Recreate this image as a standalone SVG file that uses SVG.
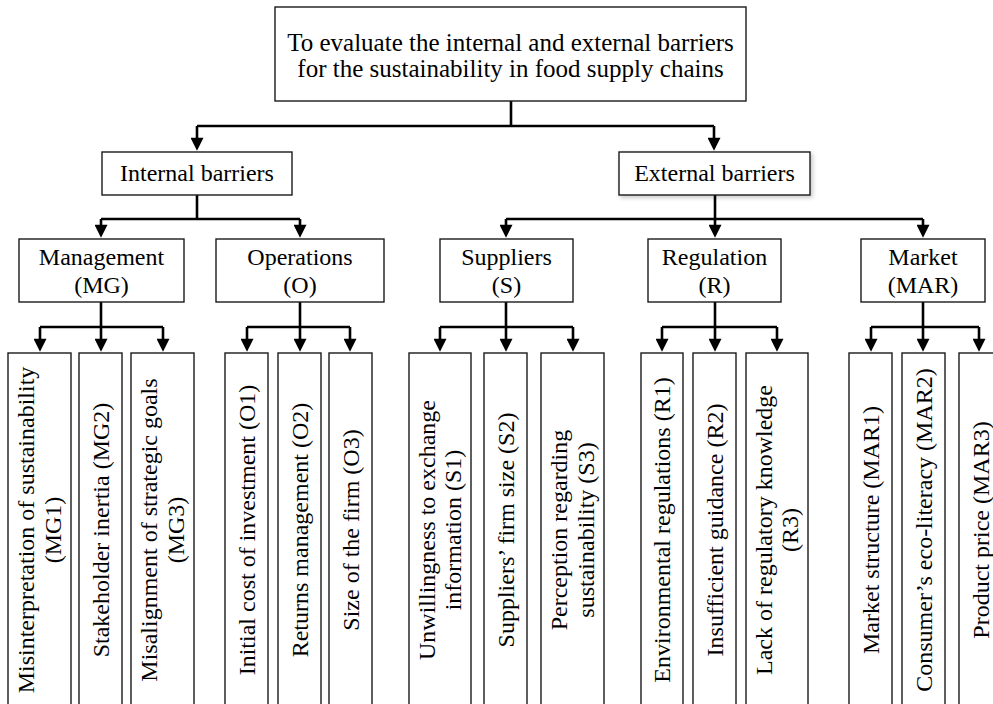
<svg xmlns="http://www.w3.org/2000/svg" width="993" height="704" viewBox="0 0 993 704">
<defs>
<style>
.box{fill:#fff;stroke:#1a1a1a;stroke-width:1.4}
.t{font-family:"Liberation Serif","Times New Roman",serif;font-size:24px;fill:#000;text-anchor:middle}
.tt{font-family:"Liberation Serif","Times New Roman",serif;font-size:25px;fill:#000;text-anchor:middle}
.ln{fill:none;stroke:#000;stroke-width:2.6}
.ar{fill:none;stroke:#000;stroke-width:2.6;marker-end:url(#ah)}
</style>
<marker id="ah" viewBox="0 0 14 14" refX="10" refY="7" markerWidth="14" markerHeight="13" markerUnits="userSpaceOnUse" orient="auto">
<path d="M0,0 L14,7 L0,14 z" fill="#000"/>
</marker>
<filter id="sh" x="-10%" y="-20%" width="130%" height="150%">
<feDropShadow dx="2" dy="2" stdDeviation="2" flood-color="#000" flood-opacity="0.22"/>
</filter>
</defs>
<rect width="993" height="704" fill="#fff"/>

<g id="connectors">
<path class="ln" d="M511,101 V126 M197,126 H714"/>
<path class="ar" d="M197,126 V147"/>
<path class="ar" d="M714,126 V147"/>
<path class="ln" d="M197,195 V219 M101,219 H300"/>
<path class="ar" d="M101,219 V234"/>
<path class="ar" d="M300,219 V234"/>
<path class="ln" d="M715,195 V219 M506,219 H923"/>
<path class="ar" d="M506,219 V234"/>
<path class="ar" d="M715,219 V234"/>
<path class="ar" d="M923,219 V234"/>
<path class="ln" d="M101,302 V327 M40,327 H163"/>
<path class="ar" d="M40,327 V348"/>
<path class="ar" d="M101,327 V348"/>
<path class="ar" d="M163,327 V348"/>
<path class="ln" d="M300,302 V327 M247,327 H350"/>
<path class="ar" d="M247,327 V348"/>
<path class="ar" d="M300,327 V348"/>
<path class="ar" d="M350,327 V348"/>
<path class="ln" d="M506,302 V327 M440,327 H573"/>
<path class="ar" d="M440,327 V348"/>
<path class="ar" d="M506,327 V348"/>
<path class="ar" d="M573,327 V348"/>
<path class="ln" d="M715,302 V327 M662,327 H777"/>
<path class="ar" d="M662,327 V348"/>
<path class="ar" d="M715,327 V348"/>
<path class="ar" d="M777,327 V348"/>
<path class="ln" d="M923,302 V327 M871,327 H979"/>
<path class="ar" d="M871,327 V348"/>
<path class="ar" d="M923,327 V348"/>
<path class="ar" d="M979,327 V348"/>
</g>

<g id="goal">
<rect class="box" x="275" y="7" width="471" height="94"/>
<text class="tt" x="510.5" y="50.5">To evaluate the internal and external barriers</text>
<text class="tt" x="510.5" y="76.5">for the sustainability in food supply chains</text>
</g>

<g id="internal">
<rect class="box" x="102" y="152" width="190" height="43"/>
<text class="t" x="197" y="181">Internal barriers</text>
</g>
<g id="external">
<rect class="box" x="619" y="152" width="191" height="43" filter="url(#sh)"/>
<text class="t" x="714.5" y="180.5">External barriers</text>
</g>

<g id="management">
<rect class="box" x="19" y="239" width="165" height="63"/>
<text class="t" x="101.5" y="265">Management</text>
<text class="t" x="101.5" y="293">(MG)</text>
</g>
<g id="operations">
<rect class="box" x="216" y="239" width="168" height="63"/>
<text class="t" x="300" y="265">Operations</text>
<text class="t" x="300" y="293">(O)</text>
</g>
<g id="suppliers">
<rect class="box" x="440" y="239" width="133" height="63"/>
<text class="t" x="506.5" y="265">Suppliers</text>
<text class="t" x="506.5" y="293">(S)</text>
</g>
<g id="regulation">
<rect class="box" x="648" y="239" width="133" height="63"/>
<text class="t" x="714.5" y="265">Regulation</text>
<text class="t" x="714.5" y="293">(R)</text>
</g>
<g id="market">
<rect class="box" x="861" y="239" width="124" height="63"/>
<text class="t" x="923" y="265">Market</text>
<text class="t" x="923" y="293">(MAR)</text>
</g>

<g id="MG1">
<rect class="box" x="8" y="353" width="63" height="360"/>
<text class="t" transform="translate(39.5,530) rotate(-90)"><tspan x="0" y="-5.5">Misinterpretation of sustainability</tspan><tspan x="0" y="21">(MG1)</tspan></text>
</g>
<g id="MG2">
<rect class="box" x="79" y="353" width="43" height="360"/>
<text class="t" transform="translate(100.5,530) rotate(-90)" y="8">Stakeholder inertia (MG2)</text>
</g>
<g id="MG3">
<rect class="box" x="131" y="353" width="63" height="360"/>
<text class="t" transform="translate(162.5,530) rotate(-90)"><tspan x="0" y="-5.5">Misalignment of strategic goals</tspan><tspan x="0" y="21">(MG3)</tspan></text>
</g>
<g id="O1">
<rect class="box" x="225" y="353" width="43" height="360"/>
<text class="t" transform="translate(246.5,530) rotate(-90)" y="8">Initial cost of investment (O1)</text>
</g>
<g id="O2">
<rect class="box" x="278" y="353" width="43" height="360"/>
<text class="t" transform="translate(299.5,530) rotate(-90)" y="8">Returns management (O2)</text>
</g>
<g id="O3">
<rect class="box" x="329" y="353" width="43" height="360"/>
<text class="t" transform="translate(350.5,530) rotate(-90)" y="8">Size of the firm (O3)</text>
</g>
<g id="S1">
<rect class="box" x="409" y="353" width="62" height="360"/>
<text class="t" transform="translate(440,530) rotate(-90)"><tspan x="0" y="-5.5">Unwillingness to exchange</tspan><tspan x="0" y="21">information (S1)</tspan></text>
</g>
<g id="S2">
<rect class="box" x="484" y="353" width="43" height="360"/>
<text class="t" transform="translate(505.5,530) rotate(-90)" y="8">Suppliers’ firm size (S2)</text>
</g>
<g id="S3">
<rect class="box" x="541" y="353" width="63" height="360"/>
<text class="t" transform="translate(572.5,530) rotate(-90)"><tspan x="0" y="-5.5">Perception regarding</tspan><tspan x="0" y="21">sustainability (S3)</tspan></text>
</g>
<g id="R1">
<rect class="box" x="641" y="353" width="42" height="360"/>
<text class="t" transform="translate(662,530) rotate(-90)" y="8">Environmental regulations (R1)</text>
</g>
<g id="R2">
<rect class="box" x="693" y="353" width="43" height="360"/>
<text class="t" transform="translate(714.5,530) rotate(-90)" y="8">Insufficient guidance (R2)</text>
</g>
<g id="R3">
<rect class="box" x="746" y="353" width="62" height="360"/>
<text class="t" transform="translate(777,530) rotate(-90)"><tspan x="0" y="-5.5">Lack of regulatory knowledge</tspan><tspan x="0" y="21">(R3)</tspan></text>
</g>
<g id="MAR1">
<rect class="box" x="849" y="353" width="43" height="360"/>
<text class="t" transform="translate(870.5,530) rotate(-90)" y="8">Market structure (MAR1)</text>
</g>
<g id="MAR2">
<rect class="box" x="902" y="353" width="43" height="360"/>
<text class="t" transform="translate(923.5,530) rotate(-90)" y="8">Consumer’s eco-literacy (MAR2)</text>
</g>
<g id="MAR3">
<rect class="box" x="959" y="353" width="43" height="360"/>
<text class="t" transform="translate(980.5,530) rotate(-90)" y="8">Product price (MAR3)</text>
</g>
</svg>
